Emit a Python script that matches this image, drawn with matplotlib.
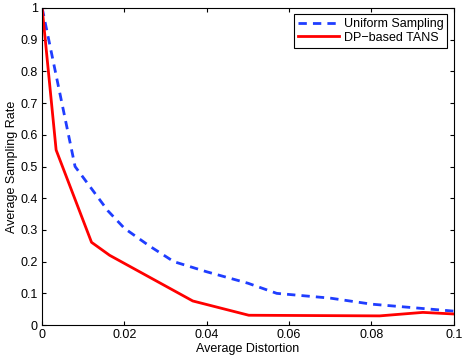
import numpy as np
import matplotlib.pyplot as plt

plt.rcParams['font.family'] = ['Liberation Sans', 'DejaVu Sans']

# uniform sampling curve
uni_x = [0, 0.008, 0.012, 0.016, 0.02, 0.026, 0.032, 0.04, 0.05, 0.057, 0.07, 0.08, 0.09, 0.1]
uni_y = [1, 0.5, 0.43, 0.36, 0.305, 0.25, 0.2, 0.168, 0.132, 0.1, 0.085, 0.066, 0.055, 0.044]

# DP-based TANS curve
dp_x = [0, 0.0034, 0.012, 0.0164, 0.0366, 0.0502, 0.082, 0.0925, 0.1]
dp_y = [1, 0.552, 0.261, 0.22, 0.076, 0.031, 0.029, 0.04, 0.035]

fig = plt.figure(figsize=(4.63, 3.6), dpi=100)
ax = fig.add_axes([0.091, 0.097, 0.889, 0.881])

ax.plot(uni_x, uni_y, '--', color='#1f3dff', lw=2, dashes=(3, 2.2), label='Uniform Sampling')
ax.plot(dp_x, dp_y, '-', color='red', lw=2, label='DP\u2212based TANS')

ax.set_xlim(0, 0.1)
ax.set_ylim(0, 1)
ax.set_xticks([0, 0.02, 0.04, 0.06, 0.08, 0.1])
ax.set_xticklabels(['0', '0.02', '0.04', '0.06', '0.08', '0.1'])
ax.set_yticks(np.arange(0, 1.01, 0.1))
ax.set_yticklabels(['0', '0.1', '0.2', '0.3', '0.4', '0.5', '0.6', '0.7', '0.8', '0.9', '1'])
ax.tick_params(direction='in', top=True, right=True, labelsize=9, length=3, pad=3)
for s in ax.spines.values():
    s.set_linewidth(0.8)

ax.set_xlabel('Average Distortion', fontsize=9, labelpad=1)
ax.set_ylabel('Average Sampling Rate', fontsize=9, labelpad=2)

leg = ax.legend(loc='upper right', fontsize=9, fancybox=False, edgecolor='black',
                framealpha=1, handlelength=3.3, borderpad=0.3, labelspacing=0.15,
                handletextpad=0.4, borderaxespad=0.5)
leg.get_frame().set_linewidth(0.8)

fig.savefig('out.png', dpi=100)
